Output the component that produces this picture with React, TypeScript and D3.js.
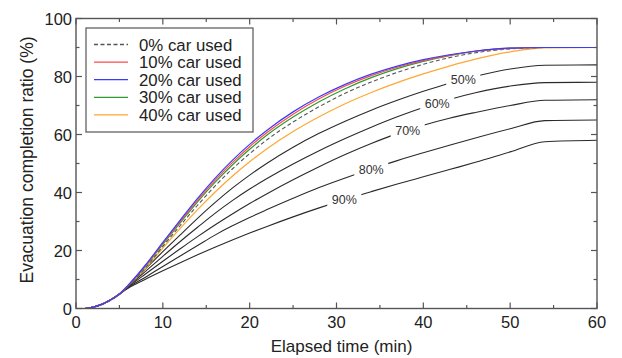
import React from "react";
import * as d3 from "d3";

const times = [0, 1, 2, 3, 4, 5, 6, 8, 10, 12, 14, 16, 18, 20, 22, 25, 28, 31, 34, 37, 40, 43, 46, 50, 54, 60];

const car0 = [0, 0, 0.4, 1.3, 2.8, 4.8, 7.7, 14, 21.4, 28.6, 35.6, 42.2, 48.1, 53.4, 58.2, 64.3, 69.6, 74.2, 78.1, 81.4, 84.2, 86.5, 88.2, 89.5, 90, 90];
const car10 = [0, 0, 0.5, 1.5, 3, 5, 8, 14.8, 22.5, 30, 37.4, 44.2, 50.3, 55.8, 60.7, 67, 72.3, 76.7, 80.3, 83.2, 85.5, 87.3, 88.7, 89.7, 90, 90];
const car20 = [0, 0, 0.5, 1.5, 3, 5, 8, 15, 22.8, 30.5, 38, 44.9, 51.1, 56.6, 61.5, 67.8, 73, 77.3, 80.8, 83.6, 85.8, 87.5, 88.8, 89.8, 90, 90];
const car30 = [0, 0, 0.5, 1.5, 3, 5, 8, 14.5, 22.1, 29.5, 36.8, 43.5, 49.5, 54.9, 59.8, 66, 71.3, 75.8, 79.6, 82.7, 85.2, 87.2, 88.7, 89.8, 90, 90];
const car40 = [0, 0, 0.5, 1.5, 3, 5, 7.8, 13.8, 20.8, 27.6, 34.1, 40.1, 45.6, 50.6, 55.1, 61, 66.1, 70.6, 74.5, 77.9, 80.9, 83.6, 86, 88.5, 89.9, 90];
const car50 = [0, 0, 0.5, 1.5, 3, 5, 7.7, 13.7, 19.6, 25.4, 31.1, 36.5, 41.5, 46, 50.1, 55.6, 60.4, 64.6, 68.4, 71.8, 74.9, 77.7, 80.1, 82.6, 83.9, 84];
const car60 = [0, 0, 0.5, 1.5, 3, 5, 7.6, 12.8, 18, 23.1, 28, 32.8, 37.2, 41.2, 44.8, 49.8, 54.4, 58.6, 62.5, 66.1, 69.3, 72.1, 74.4, 76.7, 77.9, 78];
const car70 = [0, 0, 0.5, 1.5, 3, 5, 7.4, 11.9, 16.3, 20.6, 24.8, 28.8, 32.6, 36.2, 39.6, 44.4, 48.9, 53.1, 56.9, 60.3, 63.2, 65.6, 67.6, 70, 71.8, 72];
const car80 = [0, 0, 0.5, 1.5, 3, 5, 7.2, 10.8, 14.5, 18.1, 21.7, 25.3, 28.5, 31.4, 34.1, 38, 41.7, 45, 48.1, 51, 53.7, 56.3, 58.8, 62, 64.8, 65];
const car90 = [0, 0, 0.5, 1.5, 3, 5, 7, 10.1, 13, 15.8, 18.5, 21.1, 23.6, 26, 28.3, 31.6, 34.7, 37.6, 40.3, 42.9, 45.4, 47.9, 50.4, 54, 57.5, 58];

const legendNames = ["0% car used", "10% car used", "20% car used", "30% car used", "40% car used"];
const curveLabels = ["50%", "60%", "70%", "80%", "90%"];
const labelTimes = [44.6, 41.6, 38.2, 34, 30.9];
const xTicks = [0, 10, 20, 30, 40, 50, 60];
const yTicks = [0, 20, 40, 60, 80, 100];

const W = 622;
const H = 358;
const left = 76;
const right = 597;
const top = 18.5;
const bottom = 308.5;
const font = "'Liberation Sans', Arial, sans-serif";
const axisColor = "#555";

export default function App() {
  const x = d3.scaleLinear().domain([0, 60]).range([left, right]);
  const y = d3.scaleLinear().domain([0, 100]).range([bottom, top]);
  const line = d3
    .line<number>()
    .x((_, i) => x(times[i]))
    .y((d) => y(d))
    .curve(d3.curveMonotoneX);

  const colored = [
    { data: car0, color: "#555", dash: "4,2.5", w: 1.1 },
    { data: car10, color: "#ff4a4a", dash: null, w: 1.2 },
    { data: car20, color: "#3b3bff", dash: null, w: 1.2 },
    { data: car30, color: "#2f9a2f", dash: null, w: 1.2 },
    { data: car40, color: "#ffa733", dash: null, w: 1.2 },
  ];
  const drawOrder = [4, 0, 3, 1, 2];
  const blacks = [car50, car60, car70, car80, car90];

  const interp = (arr: number[], t: number) => {
    const i = d3.bisectRight(times, t) - 1;
    const f = (t - times[i]) / (times[i + 1] - times[i]);
    return arr[i] + f * (arr[i + 1] - arr[i]);
  };

  const minorX = d3.range(5, 60, 10);
  const minorY = d3.range(10, 100, 20);

  return (
    <svg width={W} height={H} style={{ position: "absolute", left: 0, top: 0, background: "#fff" }}>
      <defs>
        <clipPath id="plot">
          <rect x={left} y={top} width={right - left} height={bottom - top} />
        </clipPath>
      </defs>
      <g clipPath="url(#plot)">
        {blacks.map((d, i) => (
          <path key={"b" + i} d={line(d) || ""} fill="none" stroke="#2a2a2a" strokeWidth={1.1} />
        ))}
        {curveLabels.map((lab, i) => {
          const t = labelTimes[i];
          const cx = x(t);
          const cy = y(interp(blacks[i], t));
          return (
            <g key={"l" + i}>
              <rect x={cx - 17} y={cy - 8} width={34} height={16} fill="#fff" />
              <text x={cx} y={cy + 4.5} textAnchor="middle" fontFamily={font} fontSize={12.5} fill="#333">
                {lab}
              </text>
            </g>
          );
        })}
        {drawOrder.map((k) => {
          const s = colored[k];
          return (
            <path
              key={"c" + k}
              d={line(s.data) || ""}
              fill="none"
              stroke={s.color}
              strokeWidth={s.w}
              strokeDasharray={s.dash || undefined}
            />
          );
        })}
      </g>
      <rect x={left} y={top} width={right - left} height={bottom - top} fill="none" stroke={axisColor} strokeWidth={1.4} />
      {xTicks.map((t) => (
        <g key={"xt" + t}>
          <line x1={x(t)} x2={x(t)} y1={bottom} y2={bottom - 6} stroke={axisColor} strokeWidth={1.2} />
          <line x1={x(t)} x2={x(t)} y1={top} y2={top + 6} stroke={axisColor} strokeWidth={1.2} />
          <text x={x(t)} y={bottom + 19} textAnchor="middle" fontFamily={font} fontSize={16.5} fill="#222">
            {t}
          </text>
        </g>
      ))}
      {minorX.map((t) => (
        <g key={"xm" + t}>
          <line x1={x(t)} x2={x(t)} y1={bottom} y2={bottom - 3.5} stroke={axisColor} strokeWidth={1.2} />
          <line x1={x(t)} x2={x(t)} y1={top} y2={top + 3.5} stroke={axisColor} strokeWidth={1.2} />
        </g>
      ))}
      {yTicks.map((v) => (
        <g key={"yt" + v}>
          <line x1={left} x2={left + 6} y1={y(v)} y2={y(v)} stroke={axisColor} strokeWidth={1.2} />
          <line x1={right} x2={right - 6} y1={y(v)} y2={y(v)} stroke={axisColor} strokeWidth={1.2} />
          <text x={left - 4} y={y(v) + 6} textAnchor="end" fontFamily={font} fontSize={16.5} fill="#222">
            {v}
          </text>
        </g>
      ))}
      {minorY.map((v) => (
        <g key={"ym" + v}>
          <line x1={left} x2={left + 3.5} y1={y(v)} y2={y(v)} stroke={axisColor} strokeWidth={1.2} />
          <line x1={right} x2={right - 3.5} y1={y(v)} y2={y(v)} stroke={axisColor} strokeWidth={1.2} />
        </g>
      ))}
      <text x={341.5} y={352} textAnchor="middle" fontFamily={font} fontSize={17} fill="#222">
        Elapsed time (min)
      </text>
      <text
        transform={`translate(33, 160) rotate(-90)`}
        textAnchor="middle"
        fontFamily={font}
        fontSize={17.5}
        fill="#222"
      >
        Evacuation completion ratio (%)
      </text>
      <rect x={86} y={28} width={167} height={104} fill="#fff" stroke={axisColor} strokeWidth={1.2} />
      {legendNames.map((name, i) => {
        const s = colored[i];
        const ly = 44.5 + i * 17.6;
        return (
          <g key={"lg" + i}>
            <line
              x1={94}
              x2={128}
              y1={ly}
              y2={ly}
              stroke={s.color}
              strokeWidth={1.3}
              strokeDasharray={s.dash || undefined}
            />
            <text x={139} y={ly + 6} fontFamily={font} fontSize={16.8} fill="#222">
              {name}
            </text>
          </g>
        );
      })}
    </svg>
  );
}
